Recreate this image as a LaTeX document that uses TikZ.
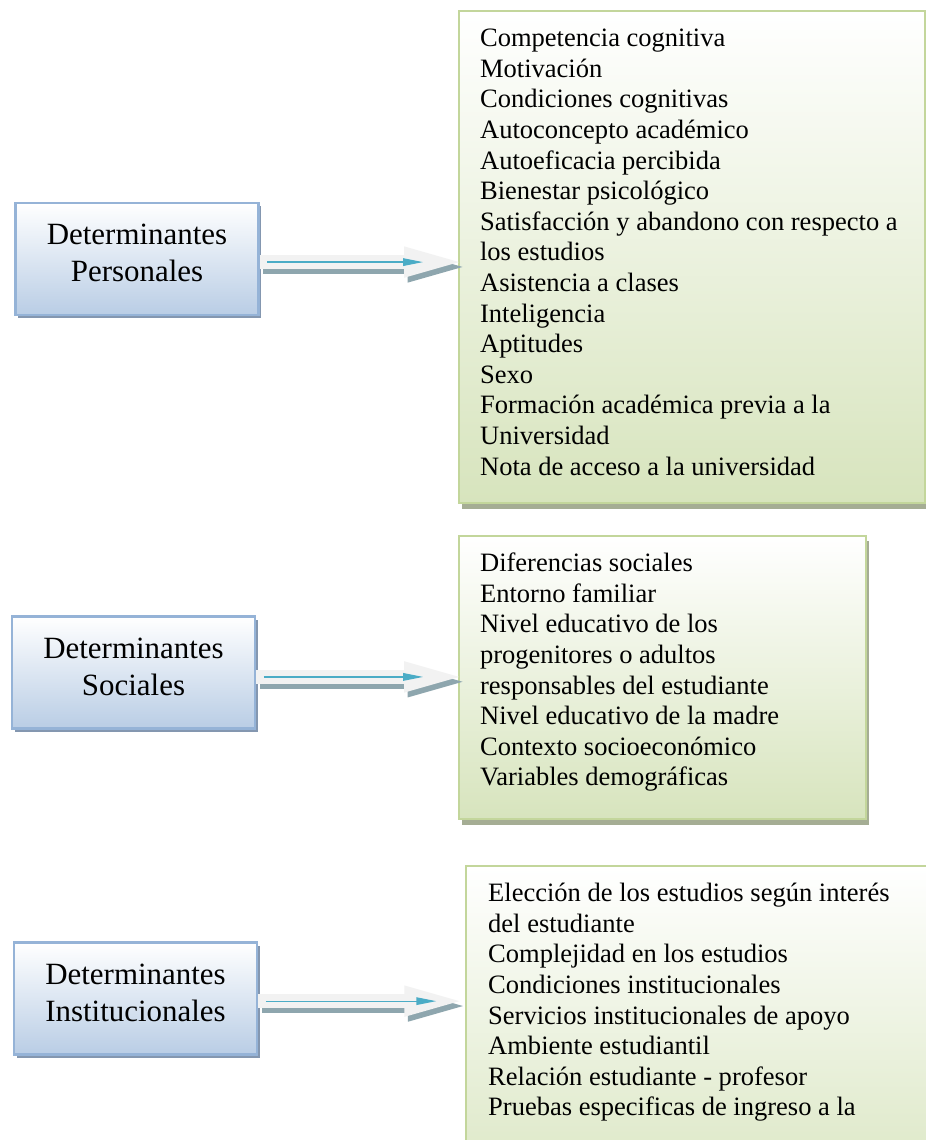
\documentclass[tikz,border=0pt]{standalone}
\usepackage{xcolor}
\usepackage{fontspec}
\setmainfont{Liberation Serif}
\usetikzlibrary{shadows,arrows.meta}

\definecolor{azulborde}{HTML}{95B3D7}
\definecolor{azulfondo}{HTML}{B9CDE5}
\definecolor{azulsombra}{HTML}{8497B0}
\definecolor{verdeborde}{HTML}{C3D69B}
\definecolor{verdefondo}{HTML}{D7E4BD}
\definecolor{verdesombra}{HTML}{A5AD94}
\definecolor{flechafondo}{HTML}{F2F2F2}
\definecolor{flechasombra}{HTML}{8EA6AE}
\definecolor{celeste}{HTML}{4BACC6}

\tikzset{
    determinante/.style={draw=azulborde, line width=1pt, top color=white, bottom color=azulfondo,
        minimum width=110pt, minimum height=50.7pt, inner sep=0pt, align=center,
        text depth=5.4pt, font=\fontsize{14}{16.7}\selectfont,
        drop shadow={shadow xshift=1.3pt, shadow yshift=-1.4pt, fill=azulsombra, opacity=1}},
    lista/.style={anchor=north west, draw=verdeborde, line width=1pt, top color=white, bottom color=verdefondo,
        inner xsep=9.5pt, inner ysep=6.4pt, font=\fontsize{12}{13.85}\selectfont,
        drop shadow={shadow xshift=1.4pt, shadow yshift=-2.4pt, fill=verdesombra, opacity=1}},
    flechagruesa/.style={draw=flechafondo, line width=6.3pt, shorten >=-5pt,
        -{Triangle[length=29.4pt, width=11.8pt]}},
    flechasombreada/.style={flechagruesa, draw=flechasombra, transform canvas={xshift=1.6pt, yshift=-2.2pt}},
    flechafina/.style={draw=celeste, line width=0.6pt, shorten <=3.5pt, shorten >=15.8pt,
        -{Triangle[length=9pt, width=3.4pt]}}
}

\begin{document}
\begin{tikzpicture}[x=0.4525pt, y=-0.4525pt]
                        \fill[white] (0,0) rectangle (925,1140);
                        \useasboundingbox (0,0) rectangle (925,1140);

                        \node [determinante] (personales) at (137,259) {Determinantes\\Personales};
                        \node [determinante] (sociales) at (133.5,672.5) {Determinantes\\Sociales};
                        \node [determinante] (institucionales) at (135.5,998.5) {Determinantes\\Institucionales};

                        \node [lista] (listapers) at (458,10) {\parbox[t][209.9pt][t]{192pt}{\raggedright\strut
                            Competencia cognitiva\\
                            Motivación\\
                            Condiciones cognitivas\\
                            Autoconcepto académico\\
                            Autoeficacia percibida\\
                            Bienestar psicológico\\
                            \mbox{Satisfacción y abandono con respecto a}\\
                            los estudios\\
                            Asistencia a clases\\
                            Inteligencia\\
                            Aptitudes\\
                            Sexo\\
                            Formación académica previa a la\\
                            Universidad\\
                            Nota de acceso a la universidad}};

                        \node [lista] (listasoc) at (458,535) {\parbox[t][115.3pt][t]{165.2pt}{\raggedright\strut
                            Diferencias sociales\\
                            Entorno familiar\\
                            Nivel educativo de los\\
                            progenitores o adultos\\
                            responsables del estudiante\\
                            Nivel educativo de la madre\\
                            Contexto socioeconómico\\
                            Variables demográficas}};

                        \node [lista, inner xsep=10pt] (listainst) at (465,865) {\parbox[t][150pt][t]{192.7pt}{\raggedright\strut
                            Elección de los estudios según interés\\
                            del estudiante\\
                            Complejidad en los estudios\\
                            Condiciones institucionales\\
                            Servicios institucionales de apoyo\\
                            Ambiente estudiantil\\
                            Relación estudiante - profesor\\
                            Pruebas especificas de ingreso a la}};

                        %\draw[help lines] (0,0) grid[step=100] (925,1140);

                        \draw [flechasombreada] ([yshift=-1.4pt]personales.east) -- ([yshift=-1.4pt]personales.east -| listapers.west);
                        \draw [flechagruesa] ([yshift=-1.4pt]personales.east) -- ([yshift=-1.4pt]personales.east -| listapers.west);
                        \draw [flechafina] ([yshift=-1.4pt]personales.east) -- ([yshift=-1.4pt]personales.east -| listapers.west);

                        \draw [flechasombreada] ([yshift=-2pt]sociales.east) -- ([yshift=-2pt]sociales.east -| listasoc.west);
                        \draw [flechagruesa] ([yshift=-2pt]sociales.east) -- ([yshift=-2pt]sociales.east -| listasoc.west);
                        \draw [flechafina] ([yshift=-2pt]sociales.east) -- ([yshift=-2pt]sociales.east -| listasoc.west);

                        \draw [flechasombreada, shorten >=-2pt] ([yshift=-1.2pt]institucionales.east) -- ([yshift=-1.2pt]institucionales.east -| listainst.west);
                        \draw [flechagruesa, shorten >=-2pt] ([yshift=-1.2pt]institucionales.east) -- ([yshift=-1.2pt]institucionales.east -| listainst.west);
                        \draw [flechafina, shorten >=13pt] ([yshift=-1.2pt]institucionales.east) -- ([yshift=-1.2pt]institucionales.east -| listainst.west);
\end{tikzpicture}
\end{document}
